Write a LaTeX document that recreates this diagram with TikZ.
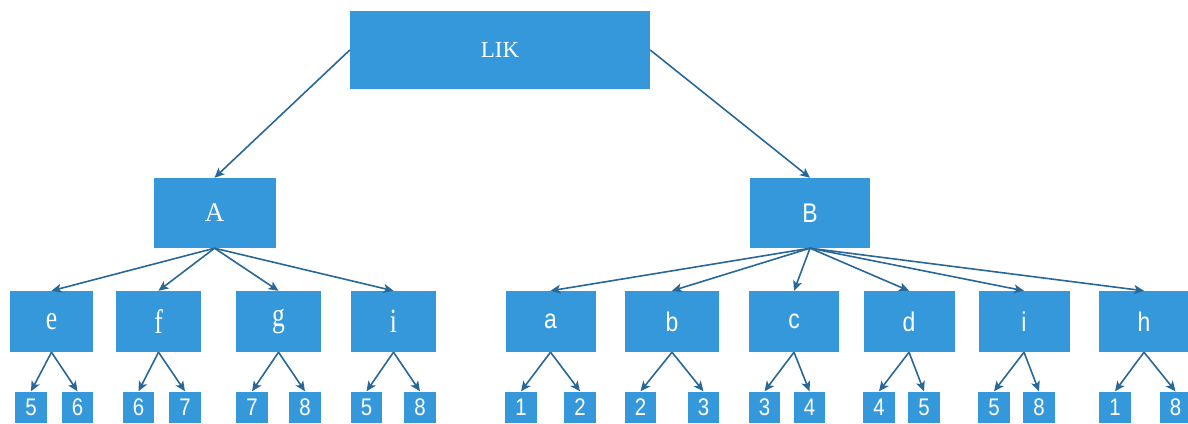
\documentclass[tikz,border=0pt]{standalone}
\usepackage{fontspec}
\setmainfont{Liberation Serif}
\newfontfamily\narrowsans[FakeStretch=0.85]{Liberation Sans}
\newfontfamily\narrowserif[FakeStretch=0.75]{Liberation Serif}
\usepackage{xcolor}
\usepackage{tikz}
\usetikzlibrary{arrows.meta, positioning}
\definecolor{likblue}{RGB}{53, 152, 219}
\definecolor{likline}{RGB}{40, 104, 152}

\begin{document}
\begin{tikzpicture}[
        x=1pt, y=-1pt,
        box/.style={fill=likblue, text=white, inner sep=0pt, align=center},
        rootbox/.style={box, minimum width=300pt, minimum height=78pt, font=\fontsize{23}{26}\selectfont},
        midbox/.style={box, minimum width=122pt, minimum height=70pt},
        leftbox/.style={box, minimum width=85pt, minimum height=61pt, font=\narrowserif\fontsize{34}{36}\selectfont},
        rightbox/.style={box, minimum width=91pt, minimum height=61pt, font=\narrowsans\fontsize{27}{30}\selectfont},
        leaf/.style={box, minimum width=31.5pt, minimum height=31.5pt, font=\narrowsans\fontsize{24}{26}\selectfont},
        arrow/.style={-{Stealth[length=10pt, width=9pt, inset=2.5pt]}, likline, line width=1.6pt}
    ]
        \clip (0,0) rectangle (1188,423);

        % Root
        \node[rootbox] (lik) at (500,50) {LIK};

        % First level
        \node[midbox, font=\fontsize{27}{30}\selectfont] (A) at (214.5,213) {A};
        \node[midbox, minimum width=120pt, font=\narrowsans\fontsize{27}{30}\selectfont] (B) at (810,213) {B};

        % Second level under A
        \node[leftbox, minimum width=83pt] (e) at (51.5,321.5) {e};
        \node[leftbox] (f) at (158.5,321.5) {f};
        \node[leftbox] (g) at (278.5,321.5) {g};
        \node[leftbox] (iA) at (393.5,321.5) {i};

        % Second level under B
        \node[rightbox, minimum width=90pt] (a) at (550.5,321.5) {a};
        \node[rightbox, minimum width=94pt] (b) at (672,321.5) {b};
        \node[rightbox, minimum width=90pt] (c) at (794,321.5) {c};
        \node[rightbox] (d) at (909,321.5) {d};
        \node[rightbox] (iB) at (1024,321.5) {i};
        \node[rightbox] (h) at (1144,321.5) {h};

        % Leaves
        \node[leaf] (e1) at (31,407.25) {5};
        \node[leaf] (e2) at (77.5,407.25) {6};
        \node[leaf] (f1) at (138.5,407.25) {6};
        \node[leaf] (f2) at (185,407.25) {7};
        \node[leaf] (g1) at (252,407.25) {7};
        \node[leaf] (g2) at (305,407.25) {8};
        \node[leaf] (iA1) at (366.5,407.25) {5};
        \node[leaf] (iA2) at (420,407.25) {8};
        \node[leaf] (a1) at (521,407.25) {1};
        \node[leaf] (a2) at (580,407.25) {2};
        \node[leaf] (b1) at (640.5,407.25) {2};
        \node[leaf] (b2) at (703.5,407.25) {3};
        \node[leaf] (c1) at (764.5,407.25) {3};
        \node[leaf] (c2) at (809.5,407.25) {4};
        \node[leaf] (d1) at (879,407.25) {4};
        \node[leaf] (d2) at (924,407.25) {5};
        \node[leaf] (iB1) at (994,407.25) {5};
        \node[leaf] (iB2) at (1039,407.25) {8};
        \node[leaf] (h1) at (1115,407.25) {1};
        \node[leaf] (h2) at (1175.5,407.25) {8};

        % Arrows
        \draw[arrow] (lik.west) -- (A.north);
        \draw[arrow] (lik.east) -- (B.north);

        \draw[arrow] (A.south) -- (e.north);
        \draw[arrow] (A.south) -- (f.north);
        \draw[arrow] (A.south) -- (g.north);
        \draw[arrow] (A.south) -- (iA.north);

        \draw[arrow] (B.south) -- (a.north);
        \draw[arrow] (B.south) -- (b.north);
        \draw[arrow] (B.south) -- (c.north);
        \draw[arrow] (B.south) -- (d.north);
        \draw[arrow] (B.south) -- (iB.north);
        \draw[arrow] (B.south) -- (h.north);

        \draw[arrow] (e.south) -- (e1.north);
        \draw[arrow] (e.south) -- (e2.north);
        \draw[arrow] (f.south) -- (f1.north);
        \draw[arrow] (f.south) -- (f2.north);
        \draw[arrow] (g.south) -- (g1.north);
        \draw[arrow] (g.south) -- (g2.north);
        \draw[arrow] (iA.south) -- (iA1.north);
        \draw[arrow] (iA.south) -- (iA2.north);

        \draw[arrow] (a.south) -- (a1.north);
        \draw[arrow] (a.south) -- (a2.north);
        \draw[arrow] (b.south) -- (b1.north);
        \draw[arrow] (b.south) -- (b2.north);
        \draw[arrow] (c.south) -- (c1.north);
        \draw[arrow] (c.south) -- (c2.north);
        \draw[arrow] (d.south) -- (d1.north);
        \draw[arrow] (d.south) -- (d2.north);
        \draw[arrow] (iB.south) -- (iB1.north);
        \draw[arrow] (iB.south) -- (iB2.north);
        \draw[arrow] (h.south) -- (h1.north);
        \draw[arrow] (h.south) -- (h2.north);
    \end{tikzpicture}
\end{document}
